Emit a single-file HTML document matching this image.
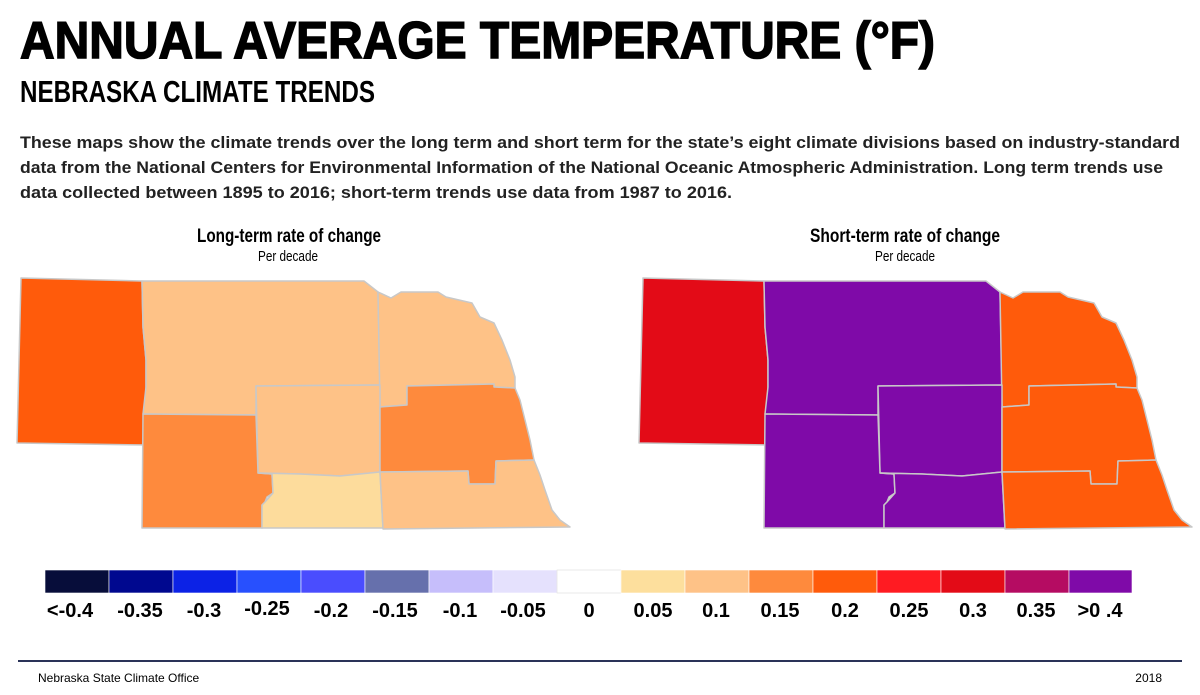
<!DOCTYPE html>
<html><head><meta charset="utf-8"><style>
html,body{margin:0;padding:0;background:#fff;}
svg{display:block;}
</style></head><body>
<svg width="1200" height="695" viewBox="0 0 1200 695" xmlns="http://www.w3.org/2000/svg" font-family="Liberation Sans, sans-serif">
<text x="20" y="58" font-size="52" font-weight="bold" textLength="915" lengthAdjust="spacingAndGlyphs" fill="#000" stroke="#000" stroke-width="1.5">ANNUAL AVERAGE TEMPERATURE (°F)</text>
<text x="20" y="102" font-size="31" font-weight="bold" font-family="Liberation Sans Narrow, Liberation Sans, sans-serif" textLength="355" lengthAdjust="spacingAndGlyphs" fill="#000">NEBRASKA CLIMATE TRENDS</text>
<g font-size="17" font-weight="bold" fill="#222">
<text x="20" y="148" textLength="1160" lengthAdjust="spacingAndGlyphs">These maps show the climate trends over the long term and short term for the state’s eight climate divisions based on industry-standard</text>
<text x="20" y="173" textLength="1143" lengthAdjust="spacingAndGlyphs">data from the National Centers for Environmental Information of the National Oceanic Atmospheric Administration. Long term trends use</text>
<text x="20" y="198" textLength="712" lengthAdjust="spacingAndGlyphs">data collected between 1895 to 2016; short-term trends use data from 1987 to 2016.</text>
</g>
<g font-family="Liberation Sans Narrow, Liberation Sans, sans-serif" fill="#000">
<text x="197" y="242" font-size="19" font-weight="bold" textLength="184" lengthAdjust="spacingAndGlyphs">Long-term rate of change</text>
<text x="258" y="261" font-size="15" textLength="60" lengthAdjust="spacingAndGlyphs">Per decade</text>
<text x="810" y="242" font-size="19" font-weight="bold" textLength="190" lengthAdjust="spacingAndGlyphs">Short-term rate of change</text>
<text x="875" y="261" font-size="15" textLength="60" lengthAdjust="spacingAndGlyphs">Per decade</text>
</g>
<defs>
<polygon id="pan" points="21,278 142,281 143,327 146,360 146,387 147,445 17,443"/>
<polygon id="nc" points="142,281 364,281 378,292 380,385 256,386 256,415 143,414 146,387 146,360 143,327"/>
<polygon id="ne" points="378,292 391,298 401,292 438,292 446,297 472,303 480,317 494,323 502,340 510,360 515,377 515,388 494,387 494,384 407,386 407,405 380,407"/>
<polygon id="c" points="256,386 380,385 380,472 340,476 300,474 258,473"/>
<polygon id="sw" points="143,414 256,415 258,473 272,474 273,493 267,497 265,502 262,505 262,528 142,528"/>
<polygon id="sc" points="258,473 300,474 340,476 380,472 383,528 262,528 262,505 265,502 273,493 272,474"/>
<polygon id="ec" points="380,407 407,405 407,386 494,384 494,387 515,388 520,400 525,420 530,440 534,460 496,461 495,484 469,484 468,471 380,472"/>
<polygon id="se" points="380,472 468,471 469,484 495,484 496,461 534,460 540,475 545,490 552,510 560,520 570,527 383,529"/>
</defs>
<g stroke="#c8c8c8" stroke-width="1.5" stroke-linejoin="round">
<use href="#pan" fill="#ff5b0b"/><use href="#nc" fill="#fec287"/><use href="#ne" fill="#fec287"/><use href="#c" fill="#fec287"/>
<use href="#sw" fill="#fe8a3d"/><use href="#sc" fill="#fddc9c"/><use href="#ec" fill="#fe8a3d"/><use href="#se" fill="#fec287"/>
</g>
<g stroke="#c8c8c8" stroke-width="1.5" stroke-linejoin="round" transform="translate(622,0)">
<use href="#pan" fill="#e30b17"/><use href="#nc" fill="#7f0aa8"/><use href="#ne" fill="#ff5b0b"/><use href="#c" fill="#7f0aa8"/>
<use href="#sw" fill="#7f0aa8"/><use href="#sc" fill="#7f0aa8"/><use href="#ec" fill="#ff5b0b"/><use href="#se" fill="#ff5b0b"/>
</g>
<g stroke="#fff" stroke-width="0.6">
<rect x="45" y="570" width="64" height="23" fill="#070d3a"/>
<rect x="109" y="570" width="64" height="23" fill="#00088f"/>
<rect x="173" y="570" width="64" height="23" fill="#0c22e6"/>
<rect x="237" y="570" width="64" height="23" fill="#2850fe"/>
<rect x="301" y="570" width="64" height="23" fill="#4a4dfe"/>
<rect x="365" y="570" width="64" height="23" fill="#6670ac"/>
<rect x="429" y="570" width="64" height="23" fill="#c6befb"/>
<rect x="493" y="570" width="64" height="23" fill="#e5e1fd"/>
<rect x="557" y="570" width="64" height="23" fill="#ffffff" stroke="#ddd"/>
<rect x="621" y="570" width="64" height="23" fill="#fddf9d"/>
<rect x="685" y="570" width="64" height="23" fill="#fec287"/>
<rect x="749" y="570" width="64" height="23" fill="#fe8a3d"/>
<rect x="813" y="570" width="64" height="23" fill="#ff5b0b"/>
<rect x="877" y="570" width="64" height="23" fill="#ff1b22"/>
<rect x="941" y="570" width="64" height="23" fill="#e30b17"/>
<rect x="1005" y="570" width="64" height="23" fill="#b50c62"/>
<rect x="1069" y="570" width="63" height="23" fill="#7f0aa8"/>
</g>
<g font-family="Liberation Sans Narrow, Liberation Sans, sans-serif" font-size="20" font-weight="bold" text-anchor="middle" fill="#000">
<text x="70" y="617">&lt;-0.4</text><text x="140" y="617">-0.35</text><text x="204" y="617">-0.3</text>
<text x="267" y="615">-0.25</text><text x="331" y="617">-0.2</text><text x="395" y="617">-0.15</text>
<text x="460" y="617">-0.1</text><text x="523" y="617">-0.05</text><text x="589" y="617">0</text>
<text x="653" y="617">0.05</text><text x="716" y="617">0.1</text><text x="780" y="617">0.15</text>
<text x="845" y="617">0.2</text><text x="909" y="617">0.25</text><text x="973" y="617">0.3</text>
<text x="1036" y="617">0.35</text><text x="1100" y="617">&gt;0 .4</text>
</g>
<rect x="18" y="660" width="1164" height="2" fill="#2a3358"/>
<text x="38" y="682" font-size="12" fill="#000">Nebraska State Climate Office</text>
<text x="1162" y="682" font-size="12" fill="#000" text-anchor="end">2018</text>
</svg>
</body></html>
